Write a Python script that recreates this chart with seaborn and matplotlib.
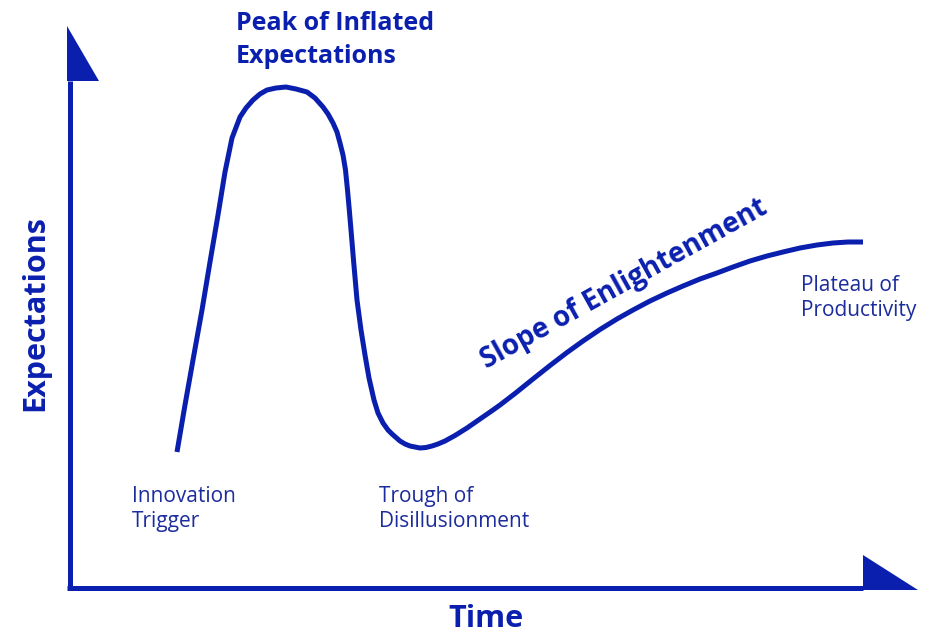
import matplotlib
matplotlib.use("Agg")
import matplotlib.pyplot as plt
import seaborn as sns
import pandas as pd

# ---------------- data ----------------
# time measured from the vertical axis, expectations from the horizontal axis
time = [107, 115, 123, 132, 140, 148, 155, 162, 170, 176, 183, 190, 197, 206, 216,
        226, 237, 245, 253, 258, 263, 267, 270, 273, 275.5, 277.5, 279.3, 281, 283.5, 287,
        291, 295, 299, 304, 308, 313, 318, 322, 330, 335, 340, 345, 350, 356, 362,
        368, 375, 385, 397, 410, 423, 430, 445, 463, 480, 497, 513, 530, 547, 563,
        580, 597, 613, 630, 647, 663, 680, 697, 713, 730, 747, 763, 778, 793]
expect = [135, 182, 227, 277, 325, 372, 415, 449, 470, 479, 487, 493, 497, 499, 500,
          498, 495, 489, 480, 473, 464, 455, 444, 432, 417, 397, 377, 357, 327, 287,
          257, 232, 209, 187, 174, 164, 157, 153, 146, 143, 141, 140, 139, 139.5, 141,
          143, 146, 151.5, 159, 168, 177, 182, 193.5, 208, 221.5, 234.5, 246, 257.5, 268, 277,
          286, 294, 301, 308, 314, 320, 326, 331, 335, 339, 342, 344, 345, 345]

stage_labels = ["Innovation\nTrigger", "Peak of Inflated\nExpectations",
                "Trough of\nDisillusionment", "Slope of Enlightenment",
                "Plateau of\nProductivity"]
x_label = "Time"
y_label = "Expectations"

# ---------------- style ----------------
BLUE = "#0a1fae"
NAVY = "#1c2c9c"

sns.set_theme(style="white")
plt.rcParams["font.family"] = ["Open Sans", "DejaVu Sans"]

W, H = 931, 638
fig = plt.figure(figsize=(W / 100, H / 100), dpi=100)
ax = fig.add_axes([0, 0, 1, 1])
# 1 data unit = 1 pixel; origin at the axes corner (70, 587)
ox, oy = 70, 587
ax.set_xlim(-ox, W - ox)
ax.set_ylim(oy - H, oy)
ax.set_axis_off()

lw = 5 * 0.72  # 5 px stroke

df = pd.DataFrame({"time": time, "expectations": expect})
sns.lineplot(data=df, x="time", y="expectations", sort=False, estimator=None,
             color=BLUE, lw=lw, ax=ax, solid_joinstyle="round", solid_capstyle="butt")

# axes with arrow heads
y_top, x_right = 506, 793
ax.plot([-0.5, -0.5], [-3, y_top], color=BLUE, lw=lw, solid_capstyle="butt")
ax.plot([-3, x_right], [-0.5, -0.5], color=BLUE, lw=lw, solid_capstyle="butt")
ax.fill([-3, -3, 29], [y_top + 55, y_top, y_top], color=BLUE, lw=0)
ax.fill([x_right, x_right, x_right + 55], [32, -3, -3], color=BLUE, lw=0)


def px(x, y):
    return x - ox, oy - y


def lines(label, x, y0, dy, **kw):
    for i, s in enumerate(label.split("\n")):
        ax.text(*px(x, y0 + i * dy), s, va="baseline", ha="left", **kw)


lines(stage_labels[0], 132, 502, 25, fontsize=15, color=NAVY)
lines(stage_labels[1], 236, 30, 33, fontsize=18, color=BLUE, fontweight="bold")
lines(stage_labels[2], 379, 502, 25, fontsize=15, color=NAVY)
lines(stage_labels[4], 801, 291, 25, fontsize=15, color=NAVY)
ax.text(*px(487, 369), stage_labels[3], rotation=29, rotation_mode="anchor",
        ha="left", va="baseline", fontsize=20, fontweight="bold", color=BLUE)

ax.text(*px(486, 627), x_label, ha="center", va="baseline", fontsize=22,
        fontweight="bold", color=BLUE)
ax.text(*px(43, 313), y_label, rotation=90, rotation_mode="anchor", ha="center",
        va="baseline", fontsize=22, fontweight="bold", color=BLUE)

fig.savefig("out.png", dpi=100, facecolor="white")
